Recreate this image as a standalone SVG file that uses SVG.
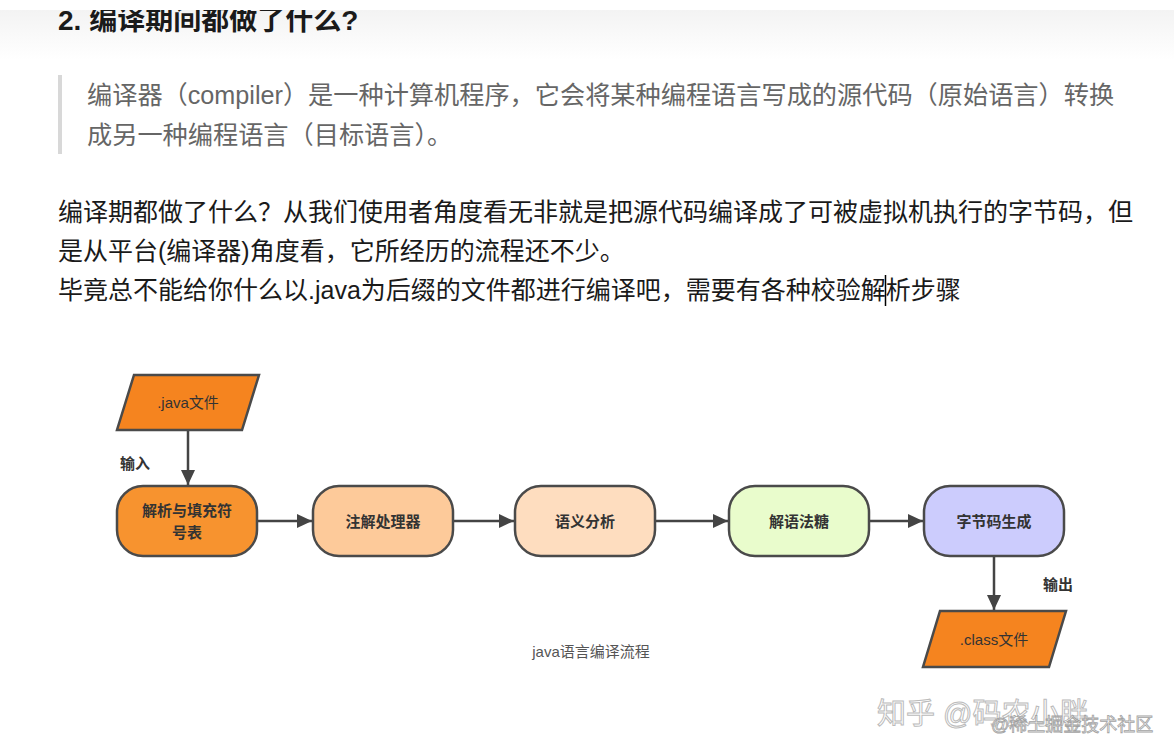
<svg xmlns="http://www.w3.org/2000/svg" width="1174" height="756" viewBox="0 0 1174 756">
<defs>
<linearGradient id="hdr" x1="0" y1="0" x2="0" y2="1">
<stop offset="0" stop-color="#f3f3f3"/>
<stop offset="1" stop-color="#ffffff"/>
</linearGradient>
<marker id="arr" markerUnits="userSpaceOnUse" markerWidth="16" markerHeight="14" refX="15" refY="7" orient="auto">
<path d="M0,0 L15,7 L0,14 z" fill="#444"/>
</marker>
<style>
.cjk{font-family:"Liberation Sans","Noto Sans CJK SC",sans-serif;}
.body{font-size:25px;fill:#1a1a1a;}
.quote{font-size:25.2px;fill:#666;}
.node{stroke:#4a4a4a;stroke-width:2.5;}
.lbl{font-size:15px;font-weight:bold;fill:#333;text-anchor:middle;}
.file{font-size:15px;fill:#333;text-anchor:middle;}
.edge{stroke:#444;stroke-width:2.5;fill:none;}
</style>
</defs>
<rect width="1174" height="756" fill="#fff"/>
<rect x="0" y="10" width="1174" height="50" fill="url(#hdr)"/>
<text class="cjk" x="58" y="30" font-size="28" font-weight="bold" fill="#1a1a1a">2. 编译期间都做了什么?</text>
<rect x="0" y="0" width="1174" height="10" fill="#fff"/>

<rect x="58" y="75" width="4" height="79" fill="#d8d8d8"/>
<text class="cjk quote" x="87" y="104">编译器（compiler）是一种计算机程序，它会将某种编程语言写成的源代码（原始语言）转换</text>
<text class="cjk quote" x="87" y="144">成另一种编程语言（目标语言）。</text>

<text class="cjk body" x="58" y="221">编译期都做了什么？从我们使用者角度看无非就是把源代码编译成了可被虚拟机执行的字节码，但</text>
<text class="cjk body" x="58" y="260">是从平台(编译器)角度看，它所经历的流程还不少。</text>
<text class="cjk body" x="58" y="299">毕竟总不能给你什么以.java为后缀的文件都进行编译吧，需要有各种校验解析步骤</text>
<line x1="885.5" y1="275" x2="885.5" y2="306" stroke="#000" stroke-width="1.5"/>

<g id="edges">
<line class="edge" x1="188" y1="430" x2="188" y2="485" marker-end="url(#arr)"/>
<line class="edge" x1="257" y1="521" x2="312" y2="521" marker-end="url(#arr)"/>
<line class="edge" x1="453" y1="521" x2="514" y2="521" marker-end="url(#arr)"/>
<line class="edge" x1="655" y1="521" x2="728" y2="521" marker-end="url(#arr)"/>
<line class="edge" x1="869" y1="521" x2="923" y2="521" marker-end="url(#arr)"/>
<line class="edge" x1="994" y1="556" x2="994" y2="610" marker-end="url(#arr)"/>
<text class="cjk" x="120" y="469" font-size="15" font-weight="bold" fill="#333">输入</text>
<text class="cjk" x="1043" y="590" font-size="15" font-weight="bold" fill="#333">输出</text>
</g>

<g id="java-file">
<polygon class="node" points="134,375 259,375 242,430 117,430" fill="#f5841f"/>
<text class="cjk file" x="188" y="408">.java文件</text>
</g>
<g id="parse">
<rect class="node" x="117" y="486" width="140" height="70" rx="26" fill="#f7932f"/>
<text class="cjk lbl" x="187" y="516">解析与填充符</text>
<text class="cjk lbl" x="187" y="538">号表</text>
</g>
<g id="annotation">
<rect class="node" x="313" y="486" width="140" height="70" rx="26" fill="#fdca9a"/>
<text class="cjk lbl" x="383" y="527">注解处理器</text>
</g>
<g id="semantic">
<rect class="node" x="515" y="486" width="140" height="70" rx="26" fill="#feddbf"/>
<text class="cjk lbl" x="585" y="527">语义分析</text>
</g>
<g id="desugar">
<rect class="node" x="729" y="486" width="140" height="70" rx="26" fill="#e9fccc"/>
<text class="cjk lbl" x="799" y="527">解语法糖</text>
</g>
<g id="bytecode">
<rect class="node" x="924" y="486" width="140" height="70" rx="26" fill="#ccccfd"/>
<text class="cjk lbl" x="994" y="527">字节码生成</text>
</g>
<g id="class-file">
<polygon class="node" points="940,611 1066,611 1049,667 923,667" fill="#f5841f"/>
<text class="cjk file" x="994" y="645">.class文件</text>
</g>

<text class="cjk" x="591" y="657" font-size="15" fill="#555" text-anchor="middle">java语言编译流程</text>

<text class="cjk" x="877" y="724" font-size="29" fill="#fff" stroke="#bbb" stroke-width="1">知乎 @码农小胖</text>
<text class="cjk" x="991" y="731" font-size="18" fill="#fff" stroke="#999" stroke-width="0.8" opacity="0.9">@稀土掘金技术社区</text>
</svg>
